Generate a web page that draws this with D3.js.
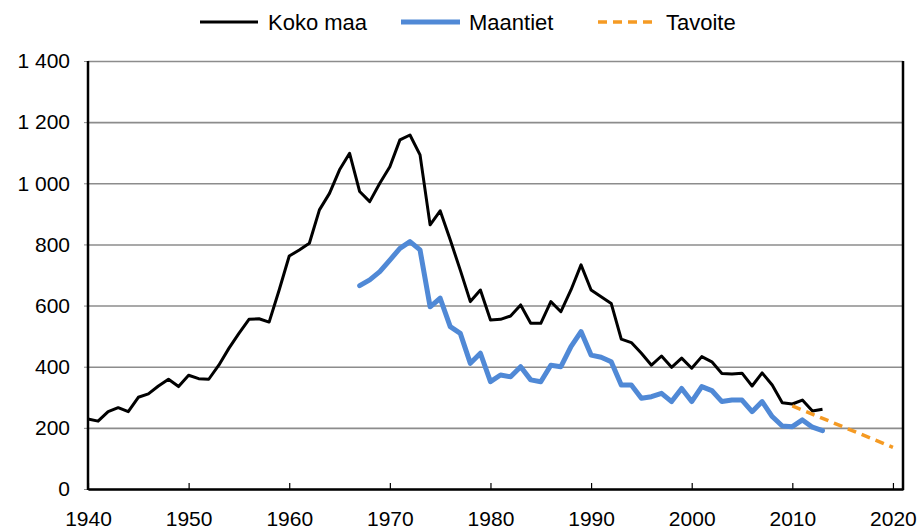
<!DOCTYPE html>
<html>
<head>
<meta charset="utf-8">
<script src="https://cdn.jsdelivr.net/npm/d3@7"></script>
<style>
  body { margin: 0; background: #fff; }
  text { font-family: "Liberation Sans", Arial, sans-serif; fill: #000; }
</style>
</head>
<body>
<svg id="chart"></svg>
<script>
var w = 920;
var h = 531;

// tieliikenteessä kuolleet
var kokoMaaStart = 1940;
var kokoMaa = [
  229, 222, 253, 266, 253, 300, 311, 337, 359, 335,
  372, 361, 359, 405, 460, 509, 555, 557, 546, 651,
  762, 782, 804, 913, 967, 1044, 1098, 973, 940, 1000,
  1054, 1142, 1158, 1093, 864, 910, 815, 716, 613, 651,
  553, 555, 566, 602, 542, 542, 613, 580, 651, 733,
  651, 629, 607, 490, 479, 444, 405, 435, 398, 428,
  395, 433, 416, 378, 376, 379, 337, 380, 340, 282,
  278, 291, 255, 261
];
var maantietStart = 1967;
var maantiet = [
  665, 684, 711, 749, 787, 809, 782, 596, 624, 531,
  509, 411, 444, 351, 373, 367, 400, 357, 351, 405,
  400, 466, 515, 438, 431, 416, 340, 340, 297, 302,
  313, 286, 329, 286, 335, 322, 286, 291, 291, 253,
  286, 237, 206, 204, 226, 202, 191
];
var tavoiteYears = [2010, 2020];
var tavoite = [272, 136];

var xTicks = [1940, 1950, 1960, 1970, 1980, 1990, 2000, 2010, 2020];
var yTicks = [0, 200, 400, 600, 800, 1000, 1200, 1400];
var seriesNames = ["Koko maa", "Maantiet", "Tavoite"];

var pLeft = 88, pRight = 903, pTop = 61, pBottom = 489;

var x = d3.scaleLinear().domain([1940, 2021]).range([pLeft, pRight]);
var y = d3.scaleLinear().domain([0, 1400]).range([pBottom, pTop]);

var svg = d3.select("#chart").attr("width", w).attr("height", h);

var fmt = d3.formatLocale({decimal: ",", thousands: "\u00a0", grouping: [3], currency: ["", " €"]}).format(",");

// grid
var yGrid = d3.axisLeft(y).tickValues(yTicks).tickSize(-(pRight - pLeft)).tickFormat("");
var gGrid = svg.append("g").attr("transform", "translate(" + pLeft + ",0)").call(yGrid);
gGrid.select(".domain").remove();
gGrid.selectAll("line").attr("stroke", "#8c8c8c").attr("stroke-width", 1.6);

// y labels
var yAxis = d3.axisLeft(y).tickValues(yTicks).tickSize(4).tickPadding(14).tickFormat(fmt);
var gY = svg.append("g").attr("transform", "translate(" + pLeft + ",0)").call(yAxis);
gY.select(".domain").remove();
gY.selectAll("line").attr("stroke", "#8c8c8c");
gY.selectAll("text").style("font-size", "21px").attr("fill", "#000");

// x axis
var xAxis = d3.axisBottom(x).tickValues(xTicks).tickSizeInner(-6).tickSizeOuter(0).tickPadding(22).tickFormat(d3.format("d"));
var gX = svg.append("g").attr("transform", "translate(0," + pBottom + ")").call(xAxis);
gX.select(".domain").attr("stroke", "#000").attr("stroke-width", 2.5);
gX.selectAll("line").attr("stroke", "#000").attr("stroke-width", 1.2);
gX.selectAll("text").style("font-size", "21px").attr("fill", "#000");

// frame left + right
svg.append("line").attr("x1", x(1940)).attr("x2", x(1940)).attr("y1", pTop).attr("y2", pBottom + 1)
  .attr("stroke", "#000").attr("stroke-width", 2.5);
svg.append("line").attr("x1", x(2021)).attr("x2", x(2021)).attr("y1", pTop).attr("y2", pBottom + 1)
  .attr("stroke", "#000").attr("stroke-width", 2.5);

var line = d3.line().x(function(d) { return x(d[0]); }).y(function(d) { return y(d[1]); });

var dataKoko = kokoMaa.map(function(v, i) { return [kokoMaaStart + i, v]; });
var dataMaa = maantiet.map(function(v, i) { return [maantietStart + i, v]; });
var dataTav = tavoite.map(function(v, i) { return [tavoiteYears[i], v]; });

svg.append("path").attr("d", line(dataKoko)).attr("fill", "none")
  .attr("stroke", "#000").attr("stroke-width", 3).attr("stroke-linejoin", "round");
svg.append("path").attr("d", line(dataMaa)).attr("fill", "none")
  .attr("stroke", "#5089d6").attr("stroke-width", 5).attr("stroke-linejoin", "round").attr("stroke-linecap", "round");
svg.append("path").attr("d", line(dataTav)).attr("fill", "none")
  .attr("stroke", "#f59a23").attr("stroke-width", 3.5).attr("stroke-dasharray", "9,6");

// legend
var legendStyles = [
  {color: "#000", width: 3, dash: null, x1: 200, x2: 258, tx: 268},
  {color: "#5089d6", width: 5, dash: null, x1: 401, x2: 460, tx: 469},
  {color: "#f59a23", width: 3.5, dash: "9,6", x1: 598, x2: 656, tx: 666}
];
var lg = svg.append("g");
seriesNames.forEach(function(name, i) {
  var s = legendStyles[i];
  lg.append("line").attr("x1", s.x1).attr("x2", s.x2).attr("y1", 22).attr("y2", 22)
    .attr("stroke", s.color).attr("stroke-width", s.width).attr("stroke-dasharray", s.dash);
  lg.append("text").attr("x", s.tx).attr("y", 22).attr("dy", "0.35em")
    .style("font-size", "22px").text(name);
});
</script>
</body>
</html>
